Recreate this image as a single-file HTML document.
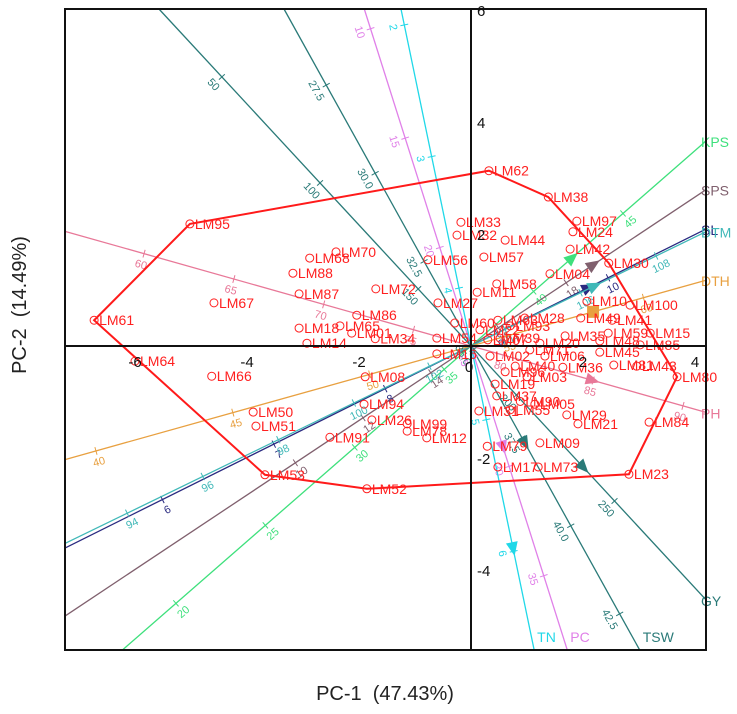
<!DOCTYPE html>
<html><head><meta charset="utf-8"><style>
html,body{margin:0;padding:0;background:#fff;}
svg{display:block;font-family:"Liberation Sans",Arial,sans-serif;}
</style></head><body>
<svg id="chart" width="737" height="714" viewBox="0 0 737 714">
<rect x="0" y="0" width="737" height="714" fill="#fff"/>
<g id="vars"></g>
<g id="hull"></g>
<g id="pts"></g>
<g id="axes"></g>
<text x="385" y="700" font-size="20" text-anchor="middle" fill="#222" style="white-space:pre" xml:space="preserve">PC-1  (47.43%)</text>
<text x="0" y="0" font-size="20" text-anchor="middle" fill="#222" style="white-space:pre" xml:space="preserve" transform="translate(26,305) rotate(-90)">PC-2  (14.49%)</text>
</svg>
<script>
// ---- data ----
const genoNames = ["LM62","LM38","LM97","LM24","LM33","LM32","LM44","LM42","LM57","LM56","LM95","LM70","LM68","LM88","LM30","LM04","LM58","LM11","LM87","LM72","LM67","LM61","LM27","LM86","LM10","LM100","LM49","LM41","LM59","LM15","LM60","LM18","LM65","LM01","LM14","LM34","LM54","LM16","LM64","LM66","LM08","LM94","LM50","LM51","LM26","LM99","LM78","LM12","LM91","LM31","LM53","LM52","LM02","LM36","LM45","LM43","LM81","LM03","LM06","LM28","LM93","LM39","LM85","LM48","LM35","LM80","LM84","LM29","LM21","LM09","LM79","LM17","LM73","LM23","LM37","LM90","LM55","LM05","LM96","LM40","LM19","LM71","LM20","LM07","LM22","LM63"];
const pc1 = [0.32,1.38,1.89,1.82,-0.18,-0.25,0.61,1.77,0.23,-0.77,-5.02,-2.41,-2.88,-3.18,2.46,1.41,0.46,0.11,-3.07,-1.70,-4.59,-6.73,-0.59,-2.04,2.07,2.84,1.96,2.52,2.45,3.20,-0.29,-3.07,-2.34,-2.13,-2.93,-1.71,-0.61,-0.61,-6.00,-4.63,-1.89,-1.91,-3.89,-3.84,-1.77,-1.14,-1.14,-0.79,-2.52,0.14,-3.68,-1.86,0.34,1.64,2.30,2.96,2.55,1.00,1.32,0.96,0.70,0.52,3.02,2.30,1.68,3.68,3.18,1.71,1.91,1.23,0.29,0.48,1.20,2.82,0.46,0.88,0.70,1.14,0.61,0.79,0.43,1.05,1.23,0.30,0.16,0.48];
const pc2 = [3.13,2.66,2.23,2.04,2.21,1.98,1.89,1.73,1.59,1.54,2.18,1.68,1.57,1.30,1.48,1.29,1.11,0.96,0.93,1.02,0.77,0.46,0.77,0.55,0.80,0.73,0.50,0.46,0.23,0.23,0.41,0.32,0.36,0.23,0.05,0.13,0.14,-0.14,-0.27,-0.54,-0.55,-1.04,-1.18,-1.43,-1.32,-1.39,-1.52,-1.64,-1.63,-1.16,-2.30,-2.55,-0.18,-0.38,-0.11,-0.36,-0.34,-0.55,-0.18,0.50,0.36,0.14,0.02,0.09,0.18,-0.55,-1.36,-1.23,-1.39,-1.73,-1.79,-2.16,-2.16,-2.29,-0.89,-0.99,-1.14,-1.04,-0.46,-0.36,-0.68,-0.07,0.05,0.11,0.29,0.46];
const hullOrder = ["LM62","LM38","LM30","LM80","LM23","LM52","LM53","LM61","LM95"];

const varNames = ["KPS","SPS","SL","DTM","DTH","PH","GY","TSW","PC","TN"];
const loadX = [1.80,2.18,2.09,2.20,2.18,2.16,2.00,0.96,0.57,0.75];
const loadY = [1.57,1.45,1.04,1.07,0.61,-0.61,-2.16,-1.73,-1.80,-3.61];
const varColors = ["#3ee07c","#80606e","#2a2a80","#40b8b8","#e8a040","#e87898","#2a7a78","#2a7a78","#e080e8","#20d8e8"];
const tickOrigin = [36.5,15.19,8.77,103.1,53.7,78.2,176.9,34.9,24.5,4.44];
const tickPerUnit = [2.36,1.378,0.45,1.333,1.97,3.0,19.38,1.389,2.44,0.4167];
const tickVals = [[20,25,30,35,40,45],[10,12,14,16,18],[6,7,8,9,10],[94,96,98,100,102,104,106,108],[40,45,50,55,60],[60,65,70,75,80,85,90],[50,100,150,200,250],[27.5,30.0,32.5,35,37.5,40.0,42.5],[10,15,20,25,30,35],[2,3,4,5,6]];
const tickFmt = [0,0,0,0,0,0,0,1,0,0];

const xTicks = [-6,-4,-2,0,2,4];
const yTicks = [-4,-2,2,4,6];

// ---- scales ----
const X0=471,Y0=346,S=56,L=65,R=706,T=9,B=650;
const sx=u=>X0+S*u, sy=v=>Y0-S*v;
const NS="http://www.w3.org/2000/svg";
function mk(tag,attrs,parent){const e=document.createElementNS(NS,tag);for(const k in attrs)e.setAttribute(k,attrs[k]);parent.appendChild(e);return e;}

// ---- variable axes ----
const gv=document.getElementById('vars');
const xmin=(L-X0)/S,xmax=(R-X0)/S,ymin=(Y0-B)/S,ymax=(Y0-T)/S;
varNames.forEach((nm,i)=>{
  const len=Math.hypot(loadX[i],loadY[i]);const ux=loadX[i]/len,uy=loadY[i]/len;
  let tlo=-1e9,thi=1e9;
  [[ux,xmin,xmax],[uy,ymin,ymax]].forEach(([d,a,b])=>{if(Math.abs(d)>1e-9){let t1=a/d,t2=b/d;if(t1>t2)[t1,t2]=[t2,t1];tlo=Math.max(tlo,t1);thi=Math.min(thi,t2);}});
  const g=mk('g',{},gv);
  
  
  const ln=mk('line',{x1:sx(ux*tlo),y1:sy(uy*tlo),x2:sx(ux*thi),y2:sy(uy*thi),stroke:varColors[i],'stroke-width':1.3},g);
  
  
  const px=-uy,py=ux;
  let ang=Math.atan2(-uy,ux)*180/Math.PI; if(ang>90)ang-=180; if(ang<-90)ang+=180;
  tickVals[i].forEach(v=>{
    const t=(v-tickOrigin[i])/tickPerUnit[i];
    if(t<tlo||t>thi)return;
    const cx=sx(ux*t),cy=sy(uy*t);
    const tk=mk('line',{x1:cx+px*4,y1:cy-py*4,x2:cx-px*4,y2:cy+py*4,stroke:varColors[i],'stroke-width':1},g);
    
    
    const lx=cx+px*12*(py<0?-1:1)*-1,ly=cy-py*12*(py<0?-1:1)*-1;
    const tx=mk('text',{x:lx,y:ly,'font-size':11,fill:varColors[i],'text-anchor':'middle','dominant-baseline':'middle',transform:`rotate(${ang} ${lx} ${ly})`},g);
    tx.textContent=v.toFixed(tickFmt[i]);
    
    
  });
  const mx=sx(loadX[i]),my=sy(loadY[i]);
  let mkEl;
  if(nm==="DTH"){mkEl=mk('rect',{x:mx-6,y:my-6,width:12,height:12,fill:varColors[i]},g);}
  else{
    const a=Math.atan2(-uy,ux);const c=Math.cos(a),s=Math.sin(a);
    const p=[[8,0],[-6,6],[-6,-6]].map(([a1,b1])=>[mx+a1*c-b1*s,my+a1*s+b1*c].join(',')).join(' ');
    mkEl=mk('polygon',{points:p,fill:varColors[i]},g);
  }
  
  
  const ex=sx(ux*thi),ey=sy(uy*thi);
  let lx,ly;
  if(Math.abs(ex-R)<2){lx=R-5;ly=ey+6;}
  else {lx=ex+3;ly=ey-8;}
  const lb=mk('text',{x:lx,y:ly,'font-size':14,fill:varColors[i],'text-anchor':'start'},g);
  lb.textContent=nm;
  
  
});

// ---- hull ----
const gh=document.getElementById('hull');
const hp=hullOrder.map(n=>{const k=genoNames.indexOf(n);return sx(pc1[k])+','+sy(pc2[k]);}).join(' ');
const hl=mk('polygon',{points:hp,fill:'none',stroke:'#ff1a1a','stroke-width':2},gh);



// ---- points ----
const gp=document.getElementById('pts');
genoNames.forEach((n,i)=>{
  const g=mk('g',{},gp);
  
  
  const x=sx(pc1[i]),y=sy(pc2[i]);
  mk('circle',{cx:x,cy:y,r:4,fill:'none',stroke:'#ff2020','stroke-width':1},g);
  const t=mk('text',{x:x+5,y:y+5,'font-size':14,fill:'#ff2020'},g);
  t.textContent=n;
});

// ---- axes ----
const ga=document.getElementById('axes');
const bx=mk('rect',{x:L,y:T,width:R-L,height:B-T,fill:'none',stroke:'#111','stroke-width':2},ga);


const zx=mk('line',{x1:L,y1:Y0,x2:R,y2:Y0,stroke:'#111','stroke-width':2},ga);


const zy=mk('line',{x1:X0,y1:T,x2:X0,y2:B,stroke:'#111','stroke-width':2},ga);


xTicks.forEach(v=>{
  const t=mk('text',{x:sx(v)+(v===0?-2:0),y:Y0+(v===0?26:21),'font-size':15,'text-anchor':'middle',fill:'#111'},ga);
  t.textContent=v;
  
  
});
yTicks.forEach(v=>{
  const t=mk('text',{x:X0+6,y:sy(v)+6,'font-size':15,fill:'#111'},ga);
  t.textContent=v;
  
  
});
</script>
</body></html>
